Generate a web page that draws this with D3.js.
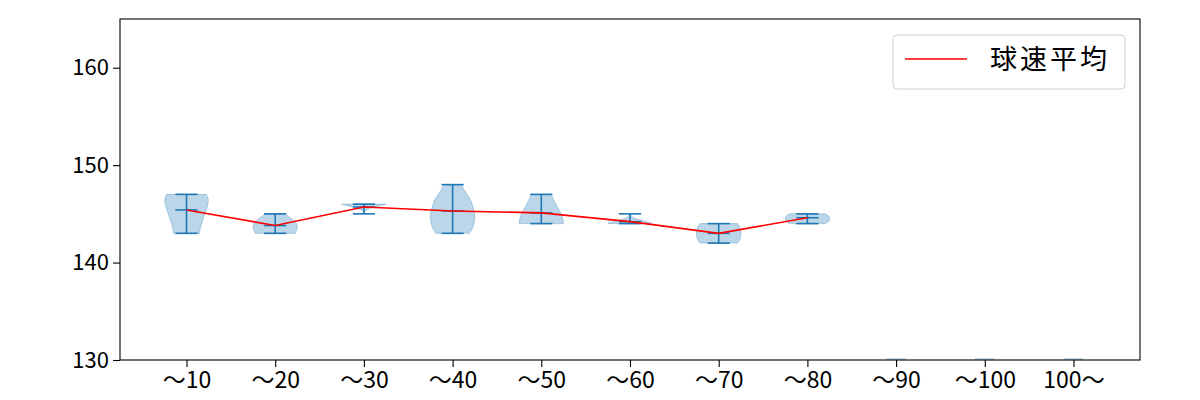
<!DOCTYPE html>
<html><head><meta charset="utf-8">
<script src="https://cdn.jsdelivr.net/npm/d3@7"></script>
<style>body{margin:0;background:#fff}svg{display:block}</style>
</head><body>
<svg id="chart" width="1200" height="400"></svg>
<script>
const categories = ["～10","～20","～30","～40","～50","～60","～70","～80","～90","～100","100～"];
const mins  = [143, 143, 145, 143, 144, 144, 142, 144];
const maxs  = [147, 145, 146, 148, 147, 145, 144, 145];
const means = [145.4, 143.8, 145.7, 145.3, 145.1, 144.2, 143.0, 144.6];
// relative violin half-widths, sampled evenly from max (top) to min (bottom)
const densities = [
  [0.9, 1.0, 0.97, 0.9, 0.82, 0.75, 0.68, 0.62, 0.58],
  [0.45, 0.75, 1.0, 1.0, 0.9],
  [1.0, 0.6, 0.15, 0.02, 0.0],
  [0.4, 0.5, 0.65, 0.8, 0.88, 0.95, 1.0, 1.0, 0.97, 0.9, 0.75],
  [0.45, 0.55, 0.65, 0.78, 0.9, 0.98, 1.0],
  [0.0, 0.05, 0.2, 0.7, 1.0],
  [0.85, 1.0, 1.0, 1.0, 0.85],
  [0.8, 1.0, 1.0, 1.0, 0.8]
];
// categories without pitches show only a flat sliver at the bottom edge
const emptyIdx = [8, 9, 10];
const emptyVal = [130, 130, 130];
const seriesName = "球速平均";
const yTicks = [130, 140, 150, 160];

const svg = d3.select("#chart");
const m = {left:120, right:1140, top:19, bottom:360};
const x = d3.scaleLinear().domain([0.25, 11.75]).range([m.left, m.right]);
const y = d3.scaleLinear().domain([130, 165]).range([m.bottom, m.top]);
const halfW = 0.25; // violin max half-width in category units
const capW = 0.125;
const font = "'Noto Sans CJK JP', 'Noto Sans', sans-serif";

svg.append("clipPath").attr("id","clip").append("rect")
  .attr("x", m.left).attr("y", m.top).attr("width", m.right-m.left).attr("height", m.bottom-m.top);
const plot = svg.append("g").attr("clip-path","url(#clip)");

// violins
densities.forEach((d, i) => {
  const pos = i + 1;
  const n = d.length;
  const pts = d.map((w, k) => ({v: maxs[i] - (maxs[i]-mins[i]) * k/(n-1), w}));
  const area = d3.area()
    .y(p => y(p.v))
    .x0(p => x(pos - halfW*p.w))
    .x1(p => x(pos + halfW*p.w))
    .curve(d3.curveBasis);
  plot.append("path").datum(pts).attr("d", area)
    .attr("fill", "#1f77b4").attr("fill-opacity", 0.3)
    .attr("stroke", "#1f77b4").attr("stroke-opacity", 0.3).attr("stroke-width", 1);
});
emptyIdx.forEach((ci, j) => {
  plot.append("rect")
    .attr("x", x(ci + 1 - 0.11)).attr("width", x(ci + 1 + 0.11) - x(ci + 1 - 0.11))
    .attr("y", y(emptyVal[j] + 0.2)).attr("height", y(emptyVal[j]) - y(emptyVal[j] + 0.2))
    .attr("fill", "#1f77b4").attr("fill-opacity", 0.3);
});

// caps, stems, means
const blue = "#1f77b4";
means.forEach((mv, i) => {
  const pos = i + 1;
  const g = plot.append("g").attr("stroke", blue).attr("stroke-width", 1.6);
  g.append("line").attr("x1", x(pos)).attr("x2", x(pos)).attr("y1", y(mins[i])).attr("y2", y(maxs[i]));
  [mins[i], maxs[i], mv].forEach(v => {
    g.append("line").attr("x1", x(pos-capW)).attr("x2", x(pos+capW)).attr("y1", y(v)).attr("y2", y(v));
  });
});

// mean line
plot.append("path").datum(means)
  .attr("d", d3.line().x((d,i) => x(i+1)).y(d => y(d)))
  .attr("fill","none").attr("stroke","#ff0000").attr("stroke-width",1.6);

// frame
svg.append("rect").attr("x", m.left).attr("y", m.top).attr("width", m.right-m.left).attr("height", m.bottom-m.top)
  .attr("fill","none").attr("stroke","#000").attr("stroke-width",1.1);

// axes
const xAxis = svg.append("g").attr("transform", `translate(0,${m.bottom})`)
  .call(d3.axisBottom(x).tickValues(d3.range(1, 12)).tickFormat(d => categories[d-1]).tickSize(7).tickPadding(5));
const yAxis = svg.append("g").attr("transform", `translate(${m.left},0)`)
  .call(d3.axisLeft(y).tickValues(yTicks).tickSize(7).tickPadding(4));
[xAxis, yAxis].forEach(a => {
  a.select(".domain").remove();
  a.selectAll("line").attr("stroke", "#000").attr("stroke-width", 1.1);
});
xAxis.selectAll("text").attr("font-family", font).attr("font-size", 23).attr("fill", "#000");
yAxis.selectAll("text").attr("font-family", font).attr("font-size", 22).attr("fill", "#000");

// legend
const lg = svg.append("g");
lg.append("rect").attr("x", 893).attr("y", 35).attr("width", 232).attr("height", 54).attr("rx", 4)
  .attr("fill", "#fff").attr("fill-opacity", 0.8).attr("stroke", "#d0d0d0");
lg.append("line").attr("x1", 905).attr("x2", 967).attr("y1", 59).attr("y2", 59)
  .attr("stroke", "#ff0000").attr("stroke-width", 1.6);
lg.append("text").attr("x", 990).attr("y", 59).attr("dy", "0.36em").text(seriesName)
  .attr("font-family", font).attr("font-size", 27).attr("letter-spacing", 3).attr("fill", "#000");
</script>
</body></html>
